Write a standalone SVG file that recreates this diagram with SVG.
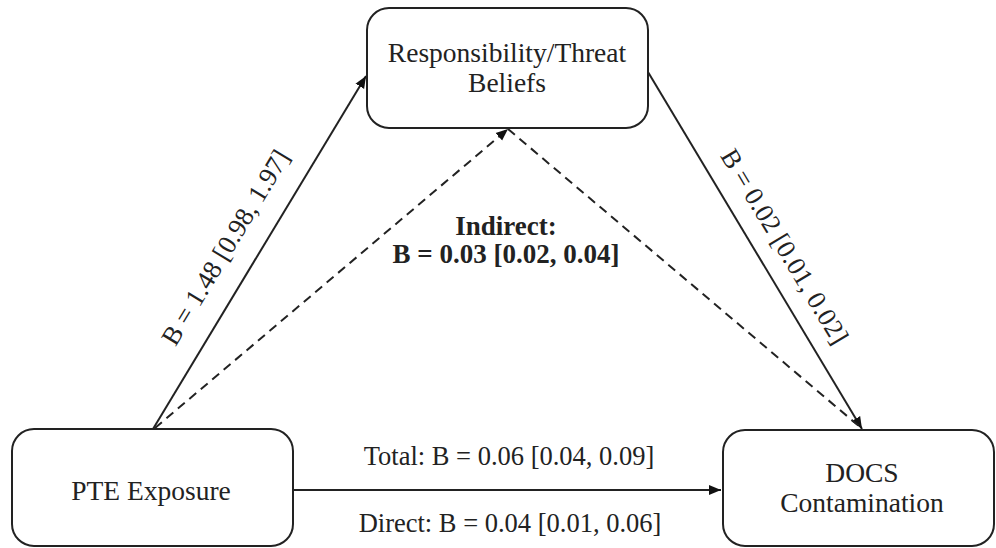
<svg xmlns="http://www.w3.org/2000/svg" width="996" height="548" viewBox="0 0 996 548">
<defs>
<marker id="ah" viewBox="0 0 10 10" refX="10" refY="5" markerWidth="12" markerHeight="12" markerUnits="userSpaceOnUse" orient="auto">
<path d="M0,0.8 L10,5 L0,9.2 Z" fill="#111"/>
</marker>
<style>
.box{fill:#fff;stroke:#222;stroke-width:2}
.t{font-family:"Liberation Serif","Times New Roman",serif;font-size:26.5px;fill:#222;text-anchor:middle}
.n{font-size:27.5px}
.b{font-weight:bold;font-size:27px}
.ln{stroke:#222;stroke-width:2;fill:none}
.dash{stroke-dasharray:9 6}
</style>
</defs>
<rect width="996" height="548" fill="#fff"/>
<g id="connectors">
<line class="ln" x1="153" y1="429" x2="366" y2="76" marker-end="url(#ah)"/>
<line class="ln" x1="648" y1="72" x2="862" y2="429" marker-end="url(#ah)"/>
<line class="ln dash" x1="155" y1="428" x2="508" y2="129" marker-end="url(#ah)"/>
<line class="ln dash" x1="508" y1="129" x2="860" y2="427"/>
<line class="ln" x1="293" y1="490" x2="721" y2="490" marker-end="url(#ah)"/>
<text class="t" transform="translate(233,252) rotate(-58.9)">B = 1.48 [0.98, 1.97]</text>
<text class="t" transform="translate(777,251) rotate(59)">B = 0.02 [0.01, 0.02]</text>
<text class="t b" x="506" y="235">Indirect:</text>
<text class="t b" x="506" y="263">B = 0.03 [0.02, 0.04]</text>
<text class="t" x="509" y="465">Total: B = 0.06 [0.04, 0.09]</text>
<text class="t" x="510" y="532">Direct: B = 0.04 [0.01, 0.06]</text>
</g>
<g id="beliefs">
<rect class="box" x="367" y="8" width="281" height="120" rx="22"/>
<text class="t n" x="507" y="62">Responsibility/Threat</text>
<text class="t n" x="507" y="92">Beliefs</text>
</g>
<g id="pte">
<rect class="box" x="12" y="429" width="281" height="117" rx="22"/>
<text class="t n" x="151" y="500">PTE Exposure</text>
</g>
<g id="docs">
<rect class="box" x="723" y="430" width="271" height="116" rx="22"/>
<text class="t n" x="862" y="482">DOCS</text>
<text class="t n" x="862" y="512">Contamination</text>
</g>
</svg>
